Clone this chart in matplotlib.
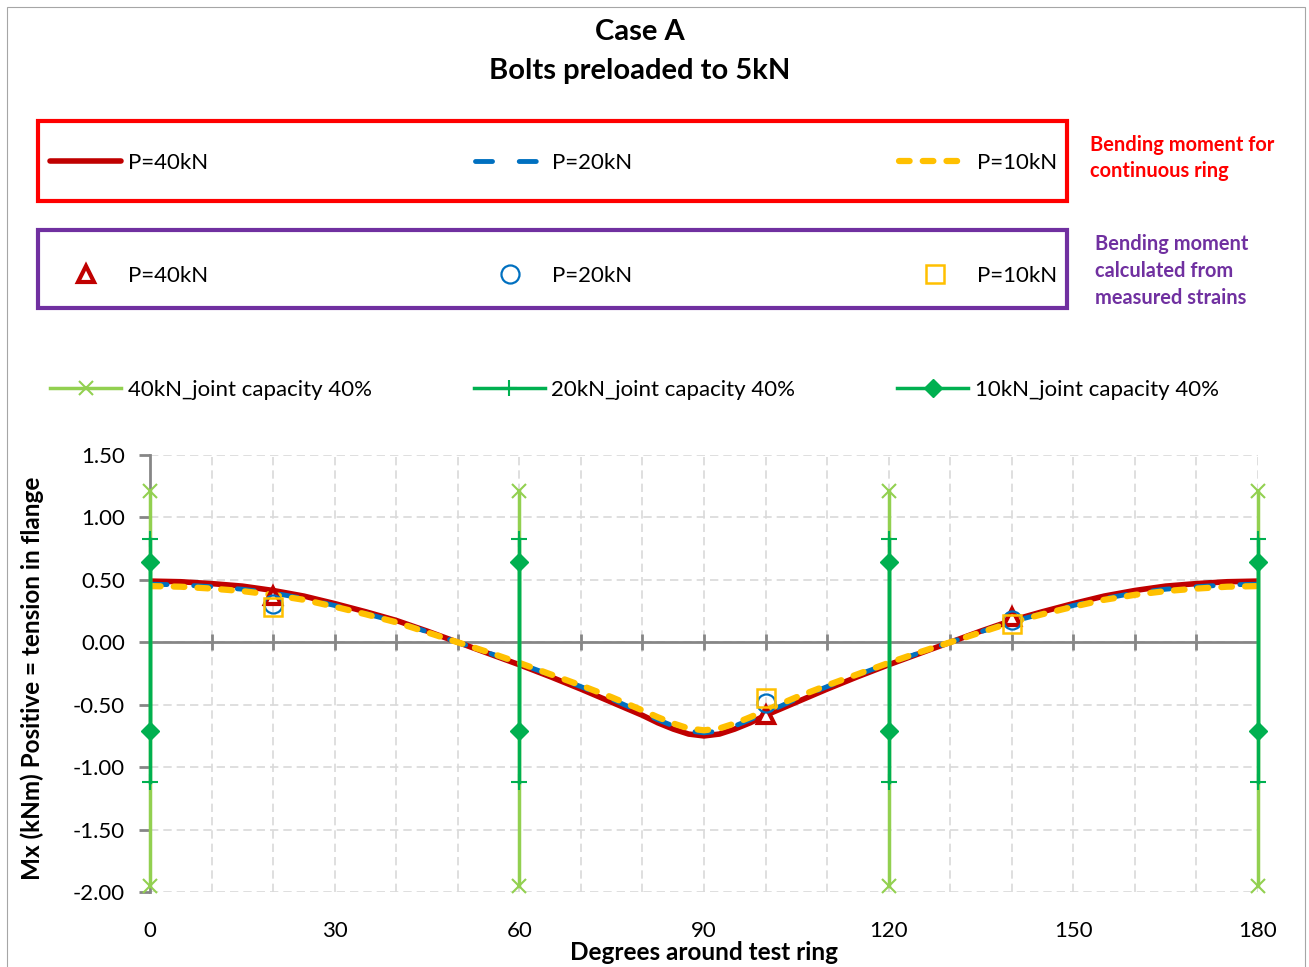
import numpy as np
import matplotlib.pyplot as plt
from matplotlib.patches import Rectangle
from matplotlib.ticker import FormatStrFormatter

plt.rcParams['font.family'] = ['Lato', 'DejaVu Sans']

# bending moment for continuous ring (kNm)
angles = [0, 5, 10, 15, 20, 25, 30, 35, 40, 45, 50, 55, 60, 65, 70, 75, 80,
          82.5, 85, 87.5, 90, 92.5, 95, 97.5,
          100, 105, 110, 115, 120, 125, 130, 135, 140, 145, 150, 155, 160,
          165, 170, 175, 180]
m_40kN = [0.49, 0.485, 0.47, 0.45, 0.415, 0.37, 0.31, 0.245, 0.175, 0.09,
          0.0, -0.09, -0.18, -0.275, -0.375, -0.48, -0.585,
          -0.645, -0.695, -0.735, -0.75, -0.735, -0.695, -0.645,
          -0.585, -0.48, -0.375, -0.275, -0.18, -0.09, 0.0, 0.09,
          0.175, 0.245, 0.31, 0.37, 0.415, 0.45, 0.47, 0.485, 0.49]
m_20kN = [0.465, 0.46, 0.445, 0.425, 0.395, 0.35, 0.295, 0.23, 0.165, 0.085,
          0.0, -0.085, -0.17, -0.26, -0.355, -0.455, -0.565,
          -0.62, -0.67, -0.71, -0.725, -0.71, -0.67, -0.62,
          -0.565, -0.455, -0.355, -0.26, -0.17, -0.085, 0.0, 0.085,
          0.165, 0.23, 0.295, 0.35, 0.395, 0.425, 0.445, 0.46, 0.465]
m_10kN = [0.45, 0.445, 0.43, 0.41, 0.38, 0.34, 0.285, 0.225, 0.16, 0.08,
          0.0, -0.08, -0.165, -0.255, -0.345, -0.44, -0.545,
          -0.60, -0.65, -0.69, -0.705, -0.69, -0.65, -0.60,
          -0.545, -0.44, -0.345, -0.255, -0.165, -0.08, 0.0, 0.08,
          0.16, 0.225, 0.285, 0.34, 0.38, 0.41, 0.43, 0.445, 0.45]

# bending moment from measured strains
meas_angles = [20, 100, 140]
meas_40kN = [0.37, -0.58, 0.20]
meas_20kN = [0.31, -0.49, 0.18]
meas_10kN = [0.28, -0.45, 0.15]

# joint capacity 40% (upper, lower) at the joints
joint_angles = [0, 60, 120, 180]
cap_40kN = [1.21, -1.95]
cap_20kN = [0.825, -1.12]
cap_10kN = [0.64, -0.71]

W, H = 1309, 967


def fx(px):
    return px / W


def fy(py):
    return 1 - py / H


def joint_xy(limits):
    xs, ys = [], []
    for a in joint_angles:
        xs += [a, a, np.nan]
        ys += [limits[0], limits[1], np.nan]
    return xs, ys


fig = plt.figure(figsize=(W / 100, H / 100), dpi=100)
ax = fig.add_axes([fx(150), fy(892), fx(1258) - fx(150), fy(455) - fy(892)])

red, blue, yellow = '#C00000', '#0070C0', '#FFC000'
lgreen, green = '#92D050', '#00B050'

l40, = ax.plot(angles, m_40kN, color=red, lw=4, solid_capstyle='round', zorder=3)
l20, = ax.plot(angles, m_20kN, color=blue, lw=3.5, dashes=(3.5, 5.5),
               dash_capstyle='round', zorder=4)
l10, = ax.plot(angles, m_10kN, color=yellow, lw=4.5, dashes=(1.7, 2.1),
               dash_capstyle='round', zorder=5)

p40, = ax.plot(meas_angles, meas_40kN, ls='none', marker='^', ms=11, mfc='white',
               mec=red, mew=3, zorder=6)
p20, = ax.plot(meas_angles, meas_20kN, ls='none', marker='o', ms=13, mfc='none',
               mec=blue, mew=1.6, zorder=7)
p10, = ax.plot(meas_angles, meas_10kN, ls='none', marker='s', ms=13, mfc='none',
               mec=yellow, mew=1.8, zorder=8)

x, y = joint_xy(cap_40kN)
j40, = ax.plot(x, y, color=lgreen, lw=2.5, marker='x', ms=10, mew=1.5,
               clip_on=False, zorder=9)
x, y = joint_xy(cap_20kN)
j20, = ax.plot(x, y, color=green, lw=2.5, marker='+', ms=12, mew=1.5,
               clip_on=False, zorder=10)
x, y = joint_xy(cap_10kN)
j10, = ax.plot(x, y, color=green, lw=2.5, marker='D', ms=9,
               clip_on=False, zorder=11)

ax.set_xlim(0, 180)
ax.set_ylim(-2.0, 1.5)
ax.set_xticks(range(0, 181, 10))
ax.set_yticks(np.arange(-2.0, 1.51, 0.5))
ax.yaxis.set_major_formatter(FormatStrFormatter('%.2f'))
ax.grid(True, color='#D9D9D9', linestyle=(0, (5, 3)), lw=1.2)
ax.set_axisbelow(True)

for s in ['top', 'right']:
    ax.spines[s].set_visible(False)
ax.spines['bottom'].set_position(('data', 0))
for s in ['left', 'bottom']:
    ax.spines[s].set_color('#868686')
    ax.spines[s].set_linewidth(2)
ax.tick_params(axis='x', direction='inout', length=12, width=2,
               color='#868686', labelbottom=False)
ax.tick_params(axis='y', direction='out', length=8, width=2,
               color='#868686', labelsize=16, pad=10)

sec = ax.secondary_xaxis('bottom')
sec.set_xticks(range(0, 181, 30))
sec.tick_params(length=0, labelsize=16, pad=21)
for s in sec.spines.values():
    s.set_visible(False)

fig.text(fx(704), fy(952), 'Degrees around test ring', ha='center', va='center',
         fontsize=17.5, fontweight='bold')
fig.text(fx(32), fy(678), 'Mx (kNm) Positive = tension in flange', ha='center',
         va='center', rotation=90, fontsize=17.5, fontweight='bold')

fig.text(fx(640), fy(32), 'Case A', ha='center', va='center', fontsize=21,
         fontweight='bold')
fig.text(fx(640), fy(71), 'Bolts preloaded to 5kN', ha='center', va='center',
         fontsize=21, fontweight='bold')

# legends
leg_kw = dict(loc='center', mode='expand', ncol=3, frameon=False, numpoints=1,
              handlelength=3.2, handletextpad=0.3, borderpad=0, borderaxespad=0,
              fontsize=16, bbox_transform=fig.transFigure)
fig.legend([l40, l20, l10], ['P=40kN', 'P=20kN', 'P=10kN'],
           bbox_to_anchor=(fx(50), fy(163), fx(1057) - fx(50), 0), **leg_kw)
fig.legend([p40, p20, p10], ['P=40kN', 'P=20kN', 'P=10kN'],
           bbox_to_anchor=(fx(50), fy(276), fx(1057) - fx(50), 0), **leg_kw)
fig.legend([j40, j20, j10],
           ['40kN_joint capacity 40%', '20kN_joint capacity 40%',
            '10kN_joint capacity 40%'],
           bbox_to_anchor=(fx(50), fy(390), fx(1219) - fx(50), 0), **leg_kw)

fig.add_artist(Rectangle((fx(38), fy(201)), fx(1067) - fx(38), fy(121) - fy(201),
                         fill=False, edgecolor='#FF0000', lw=3,
                         transform=fig.transFigure))
fig.add_artist(Rectangle((fx(38), fy(308)), fx(1067) - fx(38), fy(230) - fy(308),
                         fill=False, edgecolor='#7030A0', lw=3,
                         transform=fig.transFigure))
fig.text(fx(1090), fy(158), 'Bending moment for\ncontinuous ring', ha='left',
         va='center', fontsize=14.4, fontweight='bold', color='#FF0000',
         linespacing=1.43)
fig.text(fx(1095), fy(271), 'Bending moment\ncalculated from\nmeasured strains',
         ha='left', va='center', fontsize=14.4, fontweight='bold',
         color='#7030A0', linespacing=1.43)

fig.add_artist(Rectangle((fx(7), -0.02), fx(1305) - fx(7), fy(7) + 0.02,
                         fill=False, edgecolor='#A6A6A6', lw=0.8,
                         transform=fig.transFigure))

fig.savefig('out.png', dpi=100)
